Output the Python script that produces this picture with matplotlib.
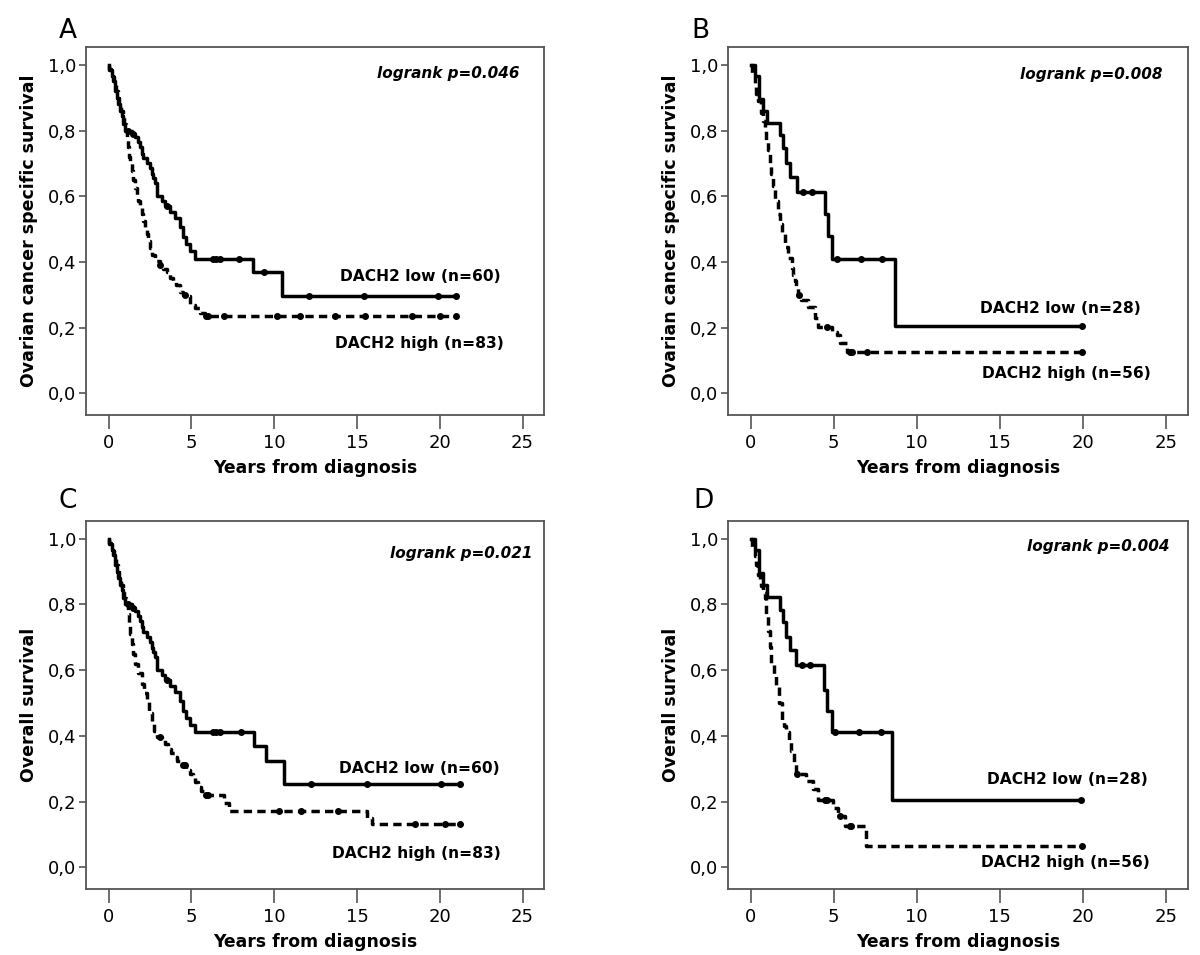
import numpy as np
import matplotlib.pyplot as plt

# Kaplan-Meier Stufen (Zeit, Ueberleben) und zensierte Zeiten
a_low_t = [0.05, 0.18, 0.28, 0.39, 0.49, 0.6, 0.69, 0.79, 0.89, 0.99, 1.39, 1.59, 1.79, 1.89, 2.0, 2.1,
           2.3, 2.5, 2.6, 2.7, 2.8, 2.9, 3.2, 3.4, 3.7, 4.0, 4.3, 4.5, 4.7, 4.9, 5.2, 8.7, 10.5]
a_low_s = [0.983, 0.967, 0.95, 0.92, 0.90, 0.88, 0.86, 0.845, 0.82, 0.80, 0.79, 0.78, 0.765, 0.75, 0.73,
           0.715, 0.70, 0.685, 0.667, 0.655, 0.64, 0.60, 0.585, 0.57, 0.553, 0.535, 0.505, 0.475, 0.455,
           0.433, 0.41, 0.37, 0.295]
a_low_c = [1.2, 1.5, 3.5, 6.3, 6.5, 6.7, 7.9, 9.4, 12.1, 15.4, 19.9, 21.0]

a_high_t = [0.05, 0.15, 0.25, 0.35, 0.45, 0.55, 0.65, 0.75, 0.85, 0.95, 1.05, 1.12, 1.19, 1.25, 1.32, 1.39,
            1.5, 1.59, 1.7, 1.8, 1.89, 2.0, 2.1, 2.2, 2.3, 2.4, 2.5, 2.65, 2.8, 3.1, 3.3, 3.5, 3.7, 3.9,
            4.1, 4.3, 4.5, 4.7, 4.9, 5.2, 5.5, 5.8]
a_high_s = [0.988, 0.976, 0.964, 0.94, 0.92, 0.90, 0.88, 0.86, 0.84, 0.82, 0.80, 0.78, 0.75, 0.72, 0.70,
            0.677, 0.65, 0.626, 0.60, 0.585, 0.565, 0.545, 0.525, 0.505, 0.484, 0.463, 0.443, 0.42, 0.402,
            0.392, 0.38, 0.37, 0.351, 0.34, 0.331, 0.31, 0.30, 0.295, 0.27, 0.26, 0.244, 0.234]
a_high_c = [3.1, 4.6, 5.9, 6.0, 7.0, 10.2, 11.55, 13.7, 15.5, 18.3, 20.0, 21.0]

b_low_t = [0.24, 0.48, 0.50, 0.75, 1.0, 1.75, 1.95, 2.15, 2.35, 2.8, 4.5, 4.63, 4.87, 8.66]
b_low_s = [0.966, 0.93, 0.895, 0.859, 0.823, 0.785, 0.746, 0.70, 0.659, 0.613, 0.546, 0.48, 0.408, 0.204]
b_low_c = [3.17, 3.67, 5.17, 6.63, 7.9, 19.95]

b_high_t = [0.1, 0.24, 0.34, 0.44, 0.64, 0.74, 0.84, 0.95, 1.05, 1.15, 1.25, 1.35, 1.46, 1.66, 1.76, 1.86,
            2.06, 2.26, 2.46, 2.56, 2.66, 2.76, 2.86, 3.06, 3.46, 3.86, 4.06, 4.87, 5.17, 5.37, 5.78]
b_high_s = [0.966, 0.936, 0.91, 0.89, 0.854, 0.83, 0.80, 0.77, 0.74, 0.70, 0.669, 0.63, 0.587, 0.546, 0.515,
            0.485, 0.444, 0.413, 0.382, 0.36, 0.341, 0.32, 0.30, 0.285, 0.264, 0.228, 0.203, 0.188, 0.177,
            0.152, 0.126]
b_high_c = [2.9, 4.57, 5.98, 6.08, 6.98, 19.97]

c_low_t = [0.05, 0.18, 0.28, 0.39, 0.49, 0.6, 0.69, 0.79, 0.89, 0.99, 1.39, 1.59, 1.79, 1.89, 2.0, 2.1,
           2.3, 2.5, 2.6, 2.7, 2.8, 2.9, 3.2, 3.4, 3.7, 4.0, 4.3, 4.5, 4.7, 4.9, 5.2, 8.77, 9.5, 10.6]
c_low_s = [0.983, 0.967, 0.95, 0.92, 0.90, 0.88, 0.86, 0.845, 0.82, 0.80, 0.79, 0.78, 0.765, 0.75, 0.73,
           0.715, 0.70, 0.685, 0.667, 0.655, 0.64, 0.60, 0.585, 0.57, 0.553, 0.535, 0.505, 0.475, 0.455,
           0.433, 0.412, 0.369, 0.324, 0.255]
c_low_c = [1.2, 1.5, 3.5, 6.3, 6.5, 6.7, 8.0, 12.2, 15.6, 20.1, 21.2]

c_high_t = [0.05, 0.15, 0.25, 0.35, 0.45, 0.55, 0.65, 0.75, 0.85, 0.95, 1.05, 1.15, 1.22, 1.29, 1.4, 1.5,
            1.59, 1.8, 1.99, 2.15, 2.3, 2.45, 2.6, 2.75, 2.9, 3.2, 3.4, 3.6, 3.8, 4.0, 4.15, 4.3, 4.7, 4.9,
            5.1, 5.25, 5.4, 5.6, 5.8, 7.0, 7.3, 15.6, 15.9]
c_high_s = [0.988, 0.976, 0.964, 0.94, 0.92, 0.90, 0.88, 0.86, 0.84, 0.82, 0.80, 0.77, 0.74, 0.711, 0.68,
            0.65, 0.62, 0.59, 0.559, 0.53, 0.503, 0.47, 0.437, 0.415, 0.397, 0.387, 0.374, 0.361, 0.348,
            0.336, 0.323, 0.31, 0.295, 0.285, 0.275, 0.26, 0.245, 0.232, 0.219, 0.195, 0.171, 0.151, 0.131]
c_high_c = [3.1, 4.5, 4.6, 5.9, 6.0, 10.3, 11.65, 13.85, 18.5, 20.3, 21.2]

d_low_t = [0.24, 0.48, 0.50, 0.72, 0.98, 1.75, 1.95, 2.15, 2.35, 2.75, 4.4, 4.57, 4.87, 8.53]
d_low_s = [0.966, 0.93, 0.895, 0.859, 0.823, 0.783, 0.748, 0.702, 0.661, 0.615, 0.539, 0.477, 0.411, 0.204]
d_low_c = [3.1, 3.55, 5.1, 6.55, 7.85, 19.9]

d_high_t = [0.1, 0.24, 0.34, 0.44, 0.54, 0.64, 0.75, 0.84, 0.95, 1.05, 1.15, 1.25, 1.4, 1.55, 1.7, 1.86,
            2.0, 2.15, 2.3, 2.45, 2.6, 2.75, 3.35, 3.76, 4.06, 4.97, 5.27, 5.67, 6.93]
d_high_s = [0.966, 0.947, 0.92, 0.89, 0.872, 0.855, 0.836, 0.82, 0.77, 0.72, 0.67, 0.62, 0.585, 0.549, 0.50,
            0.447, 0.43, 0.411, 0.38, 0.355, 0.32, 0.284, 0.263, 0.238, 0.204, 0.182, 0.156, 0.125, 0.064]
d_high_c = [2.8, 4.5, 4.6, 5.35, 5.98, 6.05, 19.93]

panel_letters = ['A', 'B', 'C', 'D']
y_labels = ['Ovarian cancer specific survival', 'Ovarian cancer specific survival',
            'Overall survival', 'Overall survival']
logrank_texts = ['logrank p=0.046', 'logrank p=0.008', 'logrank p=0.021', 'logrank p=0.004']
low_labels = ['DACH2 low (n=60)', 'DACH2 low (n=28)', 'DACH2 low (n=60)', 'DACH2 low (n=28)']
high_labels = ['DACH2 high (n=83)', 'DACH2 high (n=56)', 'DACH2 high (n=83)', 'DACH2 high (n=56)']
x_ticks = [0, 5, 10, 15, 20, 25]
y_ticks = [0.0, 0.2, 0.4, 0.6, 0.8, 1.0]
y_ticklabels = ['0,0', '0,2', '0,4', '0,6', '0,8', '1,0']

curves = [(a_low_t, a_low_s, a_low_c, a_high_t, a_high_s, a_high_c),
          (b_low_t, b_low_s, b_low_c, b_high_t, b_high_s, b_high_c),
          (c_low_t, c_low_s, c_low_c, c_high_t, c_high_s, c_high_c),
          (d_low_t, d_low_s, d_low_c, d_high_t, d_high_s, d_high_c)]

# Textpositionen (Daten-Koordinaten)
logrank_pos = [(24.8, 0.974), (24.8, 0.97), (25.6, 0.956), (25.2, 0.976)]
low_pos = [(23.7, 0.356), (23.5, 0.259), (23.6, 0.301), (23.9, 0.266)]
high_pos = [(23.9, 0.152), (24.1, 0.059), (23.7, 0.043), (24.0, 0.015)]
letter_pos = [(68, 31), (700, 31), (68, 501), (703, 501)]
axes_rects = [[0.0717, 0.5654, 0.3817, 0.3853], [0.6067, 0.5654, 0.383, 0.3853],
              [0.0717, 0.0691, 0.3817, 0.3853], [0.6067, 0.0691, 0.383, 0.3853]]

spine_col = '#555555'


def km_step(ax, t, s, c, dashed):
    end = max(c)
    tt = np.concatenate([[0.0], t, [end]])
    ss = np.concatenate([[1.0], s, [s[-1]]])
    if dashed:
        ax.step(tt, ss, where='post', color='black', lw=2.5, linestyle=(0, (2.4, 1.5)))
    else:
        ax.step(tt, ss, where='post', color='black', lw=2.5)
    idx = np.searchsorted(tt, c, side='right') - 1
    ax.plot(c, ss[idx], 'o', color='black', markersize=4, linestyle='none')


fig = plt.figure(figsize=(12, 9.55), dpi=100)
for i in range(4):
    ax = fig.add_axes(axes_rects[i])
    lt, ls, lc, ht, hs, hc = curves[i]
    km_step(ax, ht, hs, hc, True)
    km_step(ax, lt, ls, lc, False)
    ax.set_xlim(-1.36, 26.3)
    ax.set_ylim(-0.066, 1.054)
    ax.set_xticks(x_ticks)
    ax.set_xticklabels([str(x) for x in x_ticks], fontsize=13)
    ax.set_yticks(y_ticks)
    ax.set_yticklabels(y_ticklabels, fontsize=13)
    ax.tick_params(axis='x', direction='out', length=10, width=1.2, color=spine_col, pad=4)
    ax.tick_params(axis='y', direction='out', length=5, width=1.2, color=spine_col, pad=2)
    for sp in ax.spines.values():
        sp.set_color(spine_col)
        sp.set_linewidth(1.3)
    ax.set_xlabel('Years from diagnosis', fontsize=12.4, fontweight='bold')
    ax.set_ylabel(y_labels[i], fontsize=12.5, fontweight='bold')
    ax.xaxis.set_label_coords(0.5, -0.12)
    ax.yaxis.set_label_coords(-0.105, 0.5)
    ax.text(logrank_pos[i][0], logrank_pos[i][1], logrank_texts[i], ha='right', va='center',
            fontsize=11, fontweight='bold', fontstyle='italic')
    ax.text(low_pos[i][0], low_pos[i][1], low_labels[i], ha='right', va='center',
            fontsize=11.2, fontweight='bold')
    ax.text(high_pos[i][0], high_pos[i][1], high_labels[i], ha='right', va='center',
            fontsize=11.2, fontweight='bold')
    fig.text(letter_pos[i][0] / 1200, 1 - letter_pos[i][1] / 955, panel_letters[i],
             fontsize=19, ha='center', va='center')

plt.savefig('out.png', dpi=100)
